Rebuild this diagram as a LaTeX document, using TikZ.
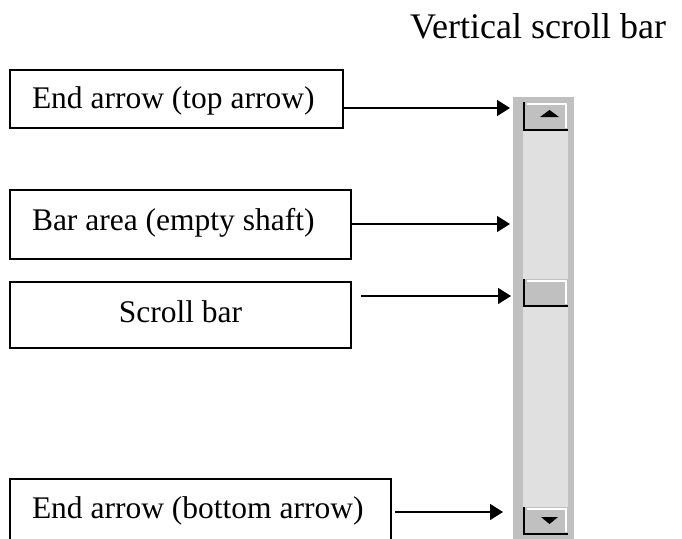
\documentclass[tikz,border=0pt]{standalone}
\usepackage{fontspec}
\setmainfont{Liberation Serif}
\usetikzlibrary{arrows.meta}
\definecolor{barface}{HTML}{C0C0C0}
\definecolor{shaftfill}{HTML}{E0E0E0}
\tikzset{
  callout/.style={draw, line width=1.5pt, anchor=north west, outer sep=0pt,
    inner xsep=22pt, inner ysep=0pt, font=\fontsize{31.5}{36}\selectfont},
  pointer/.style={line width=1.5pt, -{Triangle[length=13pt,width=16pt]}},
  btnedge/.style={line width=2.2pt, black},
  btnlight/.style={line width=1.5pt, white}
}
\begin{document}
\begin{tikzpicture}[x=1pt,y=-1pt]
\clip (0,0) rectangle (682,538);
\useasboundingbox (0,0) rectangle (682,538);

% title
\node[anchor=base west, inner sep=0pt, font=\fontsize{36}{40}\selectfont] (title) at (410,38) {Vertical scroll bar};

% labelled boxes (fixed-width single-line contents)
\node[callout, text height=38pt, text depth=20pt] (topbox) at (10,70) {\makebox[289pt][l]{End arrow (top arrow)}};
\node[callout, text height=40pt, text depth=29pt] (shaftbox) at (10,190) {\makebox[297pt][l]{Bar area (empty shaft)}};
\node[callout, text height=40pt, text depth=26pt] (thumbbox) at (10,282) {\makebox[297pt][c]{Scroll bar}};
\node[callout, text height=39pt, text depth=70pt] (botbox) at (10,479) {\makebox[337pt][l]{End arrow (bottom arrow)}};

% scroll bar: frame and shaft
\fill[barface] (513,97) rectangle (574,545);
\fill[shaftfill] (523,131) rectangle (568,507);

% top button
\fill[barface] (523,102) rectangle (568,131);
\draw[btnlight] (527,104) -- (566,104) -- (566,128);
\draw[btnedge] (524,102) -- (524,130) -- (568,130);
\fill[black] (540,117) -- (549.5,110) -- (559,117) -- cycle;

% thumb
\fill[barface] (523,279) rectangle (568,307);
\draw[btnlight] (527,281) -- (566,281) -- (566,304);
\draw[btnedge] (524,279) -- (524,306) -- (568,306);

% bottom button
\fill[barface] (523,507) rectangle (568,535);
\draw[btnlight] (527,509) -- (566,509) -- (566,532);
\draw[btnedge] (524,507) -- (524,534) -- (568,534);
\fill[black] (541,517) -- (558,517) -- (549.5,524) -- cycle;

% arrow targets
\coordinate (uparrow) at (510,108);
\coordinate (shaft) at (510,224);
\coordinate (thumb) at (511,296);
\coordinate (downarrow) at (503,512);

% connectors
\draw[pointer] (topbox.east |- uparrow) -- (uparrow);
\draw[pointer] (shaftbox.east |- shaft) -- (shaft);
\draw[pointer] ([xshift=10pt]thumbbox.east |- thumb) -- (thumb);
\draw[pointer] ([xshift=4pt]botbox.east |- downarrow) -- (downarrow);
\end{tikzpicture}
\end{document}
